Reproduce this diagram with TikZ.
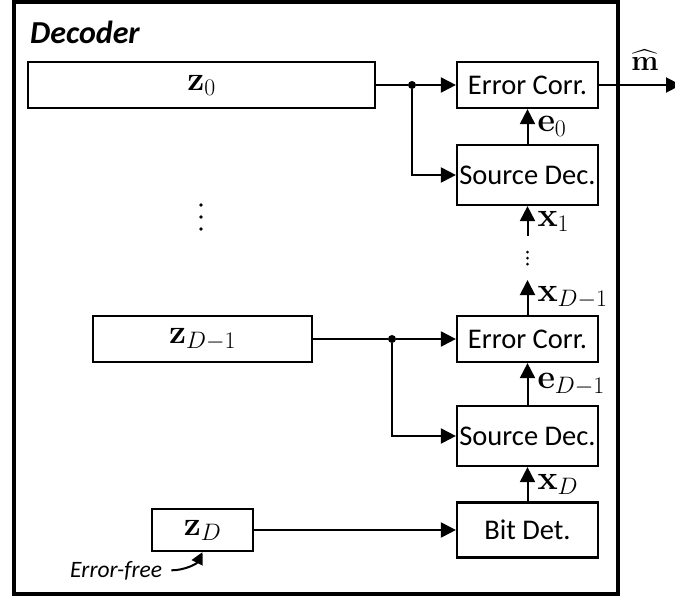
\RequirePackage{fix-cm}
\documentclass[tikz,border=0pt]{standalone}
\usepackage{amsmath}
\usepackage[no-math]{fontspec}
\setmainfont{Carlito}
\usetikzlibrary{arrows.meta, positioning, calc}

\newcommand{\blkfont}{\fontsize{28.5}{32}\selectfont}
\newcommand{\lblfont}{\fontsize{34}{38}\selectfont}

\begin{document}
\begin{tikzpicture}[x=1pt, y=-1pt,
  blk/.style={rectangle, draw, line width=2.2pt, inner sep=0pt, align=center, font=\blkfont},
  ecbox/.style={blk, minimum width=141pt, minimum height=46pt},
  sdbox/.style={blk, minimum width=141pt, minimum height=60pt},
  zbox/.style={blk, minimum height=46pt, font=\lblfont},
  jdot/.style={circle, fill=black, inner sep=0pt, minimum size=8pt},
  lbl/.style={font=\lblfont, inner sep=0pt, xshift=9pt},
  feed/.style={draw, line width=1.3pt},
  arr/.style={draw, line width=2pt, -{Triangle[length=15pt, width=15pt]}},
  vdot/.style={fill=black}
]
\useasboundingbox (0,0) rectangle (675,598);

%% outer frame
\draw[line width=4pt] (14,2) rectangle (618,594);
\node[anchor=base west, inner sep=0pt, font=\fontsize{32}{36}\selectfont\bfseries\itshape]
    (title) at (30,43) {Decoder};

%% level 0
\node[zbox, minimum width=347pt] (z0)  at (201.5,85) {$\mathbf{z}_0$};
\node[ecbox] (ec0) at (527.5,85)  {Error Corr.};
\node[sdbox] (sd0) at (527.5,175) {Source Dec.};
\node[jdot]  (j0)  at (412,85) {};

%% level D-1
\node[zbox, minimum width=219pt] (z1)  at (202.5,339) {$\mathbf{z}_{D-1}$};
\node[ecbox] (ec1) at (527.5,339) {Error Corr.};
\node[sdbox] (sd1) at (527.5,436) {Source Dec.};
\node[jdot]  (j1)  at (392,339) {};

%% level D
\node[zbox, minimum width=101pt, minimum height=42pt] (zD) at (202.5,530) {$\mathbf{z}_D$};
\node[blk, minimum width=141pt, minimum height=55pt] (bd) at (527.5,530) {Bit Det.};
\node[anchor=base west, inner sep=0pt, font=\fontsize{23.5}{27}\selectfont\itshape]
    (ef) at (70,577) {Error-free};

%% free ends
\coordinate (x1s)  at (527.5,236);
\coordinate (xD1e) at (527.5,280);
\coordinate (mout) at (681,85);
\node[font=\fontsize{29}{32}\selectfont, inner sep=0pt] (mhat) at (645,60) {$\widehat{\mathbf{m}}$};

%% gaps
\foreach \yy in {205,217,229} \fill[vdot] (201,\yy) circle (1.8pt);
\foreach \yy in {252,258,264} \fill[vdot] (527.5,\yy) circle (1.5pt);

%% level 0 connectors
\draw[feed] (z0.east) -- (j0);
\draw[arr] (j0) -- (ec0.west);
\draw[arr] (j0) |- (sd0.west);
\draw[arr] (sd0.north) -- (ec0.south) node[midway, right, lbl] {$\mathbf{e}_0$};
\draw[arr] (x1s) -- (sd0.south) node[midway, right, lbl] {$\mathbf{x}_1$};
\draw[arr] (ec0.east) -- (mout);

%% level D-1 connectors
\draw[feed] (z1.east) -- (j1);
\draw[arr] (j1) -- (ec1.west);
\draw[arr] (j1) |- (sd1.west);
\draw[arr] (ec1.north) -- (xD1e) node[midway, right, lbl] {$\mathbf{x}_{D-1}$};
\draw[arr] (sd1.north) -- (ec1.south) node[midway, right, lbl] {$\mathbf{e}_{D-1}$};

%% level D connectors
\draw[arr] (bd.north) -- (sd1.south) node[midway, right, lbl] {$\mathbf{x}_D$};
\draw[arr] (zD.east) -- (bd.west);
\draw[line width=2pt, -{Triangle[length=12pt, width=12pt]}]
    ([xshift=9pt]ef.east) .. controls ($(ef.east)+(22,0)$) and ($(zD.south)+(-6,12)$) .. (zD.south);

\end{tikzpicture}
\end{document}
